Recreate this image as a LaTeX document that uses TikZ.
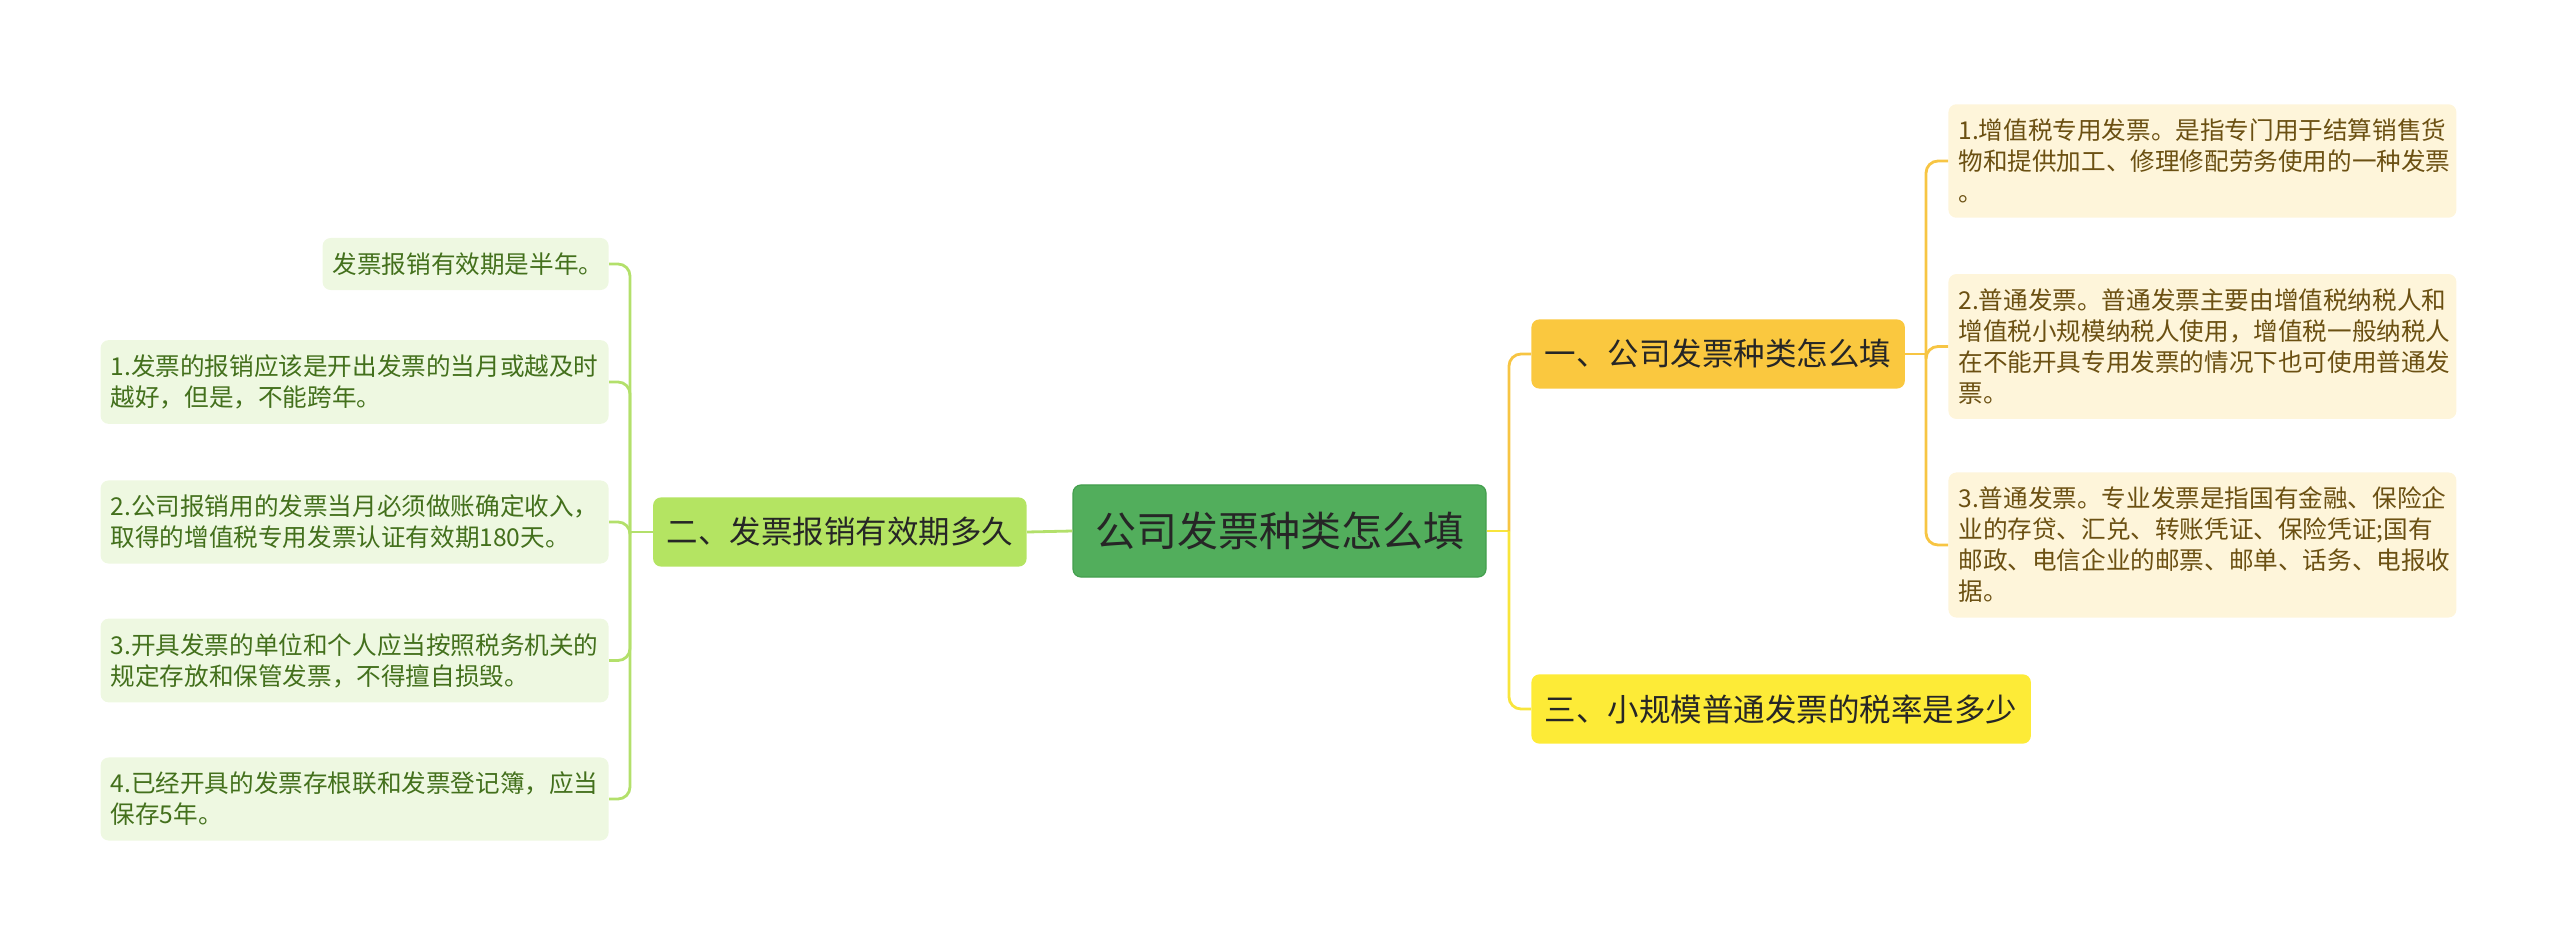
\documentclass[tikz,border=0pt]{standalone}
\usepackage{fontspec}
\setmainfont{Noto Sans CJK SC}
\usepackage{xcolor}
\usepackage{tikz}
\usetikzlibrary{positioning}

\definecolor{rootgreen}{HTML}{52AE5C}
\definecolor{rootedge}{HTML}{449F4E}
\definecolor{orangetopic}{HTML}{FAC83F}
\definecolor{yellowtopic}{HTML}{FDEB37}
\definecolor{greentopic}{HTML}{B4E462}
\definecolor{creamleaf}{HTML}{FEF5DA}
\definecolor{mintleaf}{HTML}{EEF8E1}
\definecolor{browntext}{HTML}{6B5012}
\definecolor{greentext}{HTML}{43701C}
\definecolor{orangeline}{HTML}{F7C543}
\definecolor{yellowline}{HTML}{F8E53C}
\definecolor{greenline}{HTML}{B3E06B}

\begin{document}
\begin{tikzpicture}[
    x=0.5pt,
    y=-0.5pt,
    mainidea/.style={
        rectangle,
        draw=rootedge,
        line width=0.6pt,
        fill=rootgreen,
        rounded corners=4pt,
        inner xsep=11pt,
        inner ysep=13.5pt,
        text=black!85,
        font=\fontsize{20.5}{24}\selectfont
    },
    subtopic/.style={
        rectangle,
        rounded corners=4pt,
        inner xsep=6.75pt,
        inner ysep=10pt,
        text=black!85,
        font=\fontsize{15.75}{19}\selectfont
    },
    detail/.style={
        rectangle,
        rounded corners=4pt,
        inner xsep=5pt,
        inner ysep=7.3pt,
        text width=244pt,
        align=left,
        font=\fontsize{12.3}{15.5}\selectfont
    },
    link/.style={line width=1.4pt, rounded corners=6pt}
]
\useasboundingbox (0,0) rectangle (2560,947);

% Central idea
\node[mainidea] (root) at (1279.5,531) {公司发票种类怎么填};

% Right topics
\node[subtopic, fill=orangetopic, anchor=west] (t1) at (1531,354) {一、公司发票种类怎么填};
\node[subtopic, fill=yellowtopic, anchor=west] (t3) at (1531,709) {三、小规模普通发票的税率是多少};

% Left topic
\node[subtopic, fill=greentopic, anchor=east] (t2) at (1027,532) {二、发票报销有效期多久};

% Details of topic one
\node[detail, fill=creamleaf, text=browntext, anchor=west] (r1) at (1948,161) {1.增值税专用发票。是指专门用于结算销售货\\物和提供加工、修理修配劳务使用的一种发票\\。};
\node[detail, fill=creamleaf, text=browntext, anchor=west] (r2) at (1948,346.5) {2.普通发票。普通发票主要由增值税纳税人和\\增值税小规模纳税人使用，增值税一般纳税人\\在不能开具专用发票的情况下也可使用普通发\\票。};
\node[detail, fill=creamleaf, text=browntext, anchor=west] (r3) at (1948,545) {3.普通发票。专业发票是指国有金融、保险企\\业的存贷、汇兑、转账凭证、保险凭证;国有\\邮政、电信企业的邮票、邮单、话务、电报收\\据。};

% Details of topic two
\node[detail, fill=mintleaf, text=greentext, anchor=east, text width=133pt] (l0) at (609,264) {发票报销有效期是半年。};
\node[detail, fill=mintleaf, text=greentext, anchor=east] (l1) at (609,382) {1.发票的报销应该是开出发票的当月或越及时\\越好，但是，不能跨年。};
\node[detail, fill=mintleaf, text=greentext, anchor=east] (l2) at (609,522) {2.公司报销用的发票当月必须做账确定收入，\\取得的增值税专用发票认证有效期180天。};
\node[detail, fill=mintleaf, text=greentext, anchor=east] (l3) at (609,660.5) {3.开具发票的单位和个人应当按照税务机关的\\规定存放和保管发票，不得擅自损毁。};
\node[detail, fill=mintleaf, text=greentext, anchor=east] (l4) at (609,799) {4.已经开具的发票存根联和发票登记簿，应当\\保存5年。};

% Branch hubs
\coordinate (hubR) at (1509,531);
\coordinate (hubT) at (1926,354);
\coordinate (hubL) at (630,532);

% Connectors
\draw[link, yellowline] (root.east) -- (hubR);
\draw[link, orangeline] (hubR) |- (t1.west);
\draw[link, yellowline] (hubR) |- (t3.west);
\draw[link, orangeline] (t1.east) -- (hubT);
\foreach \leaf in {r1,r2,r3}
    \draw[link, orangeline] (hubT) |- (\leaf.west);
\draw[link, greenline] (root.west) -- (t2.east);
\draw[link, greenline] (t2.west) -- (hubL);
\foreach \leaf in {l0,l1,l2,l3,l4}
    \draw[link, greenline] (hubL) |- (\leaf.east);

\end{tikzpicture}
\end{document}
